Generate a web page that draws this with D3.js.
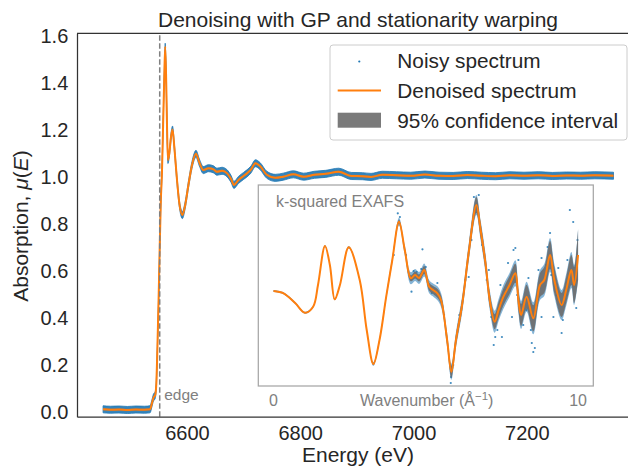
<!DOCTYPE html>
<html>
<head>
<meta charset="utf-8">
<script src="https://cdn.jsdelivr.net/npm/d3@7"></script>
<style>
  body { margin: 0; background: #fff; }
  text { font-family: "Liberation Sans", Arial, sans-serif; }
</style>
</head>
<body>
<svg id="chart"></svg>
<script>
// main spectrum
const energy = [6452, 6465, 6480, 6495, 6510, 6525, 6535, 6538, 6541, 6544, 6546, 6548, 6550, 6552, 6554,
    6556, 6558, 6560, 6561.7, 6563.5, 6565, 6566.5, 6569, 6572, 6574.6, 6578, 6582, 6587, 6592, 6597,
    6603, 6609, 6616, 6622, 6629, 6638, 6647, 6653, 6662, 6671, 6678, 6683, 6691, 6700, 6706, 6713,
    6721, 6729, 6741, 6756, 6770, 6788, 6806, 6825, 6845, 6868, 6890, 6910, 6925, 6945, 6970, 6995,
    7020, 7045, 7070, 7095, 7120, 7145, 7170, 7195, 7220, 7245, 7270, 7295, 7320, 7353];
const mu = [0.012, 0.010, 0.011, 0.009, 0.011, 0.010, 0.012, 0.035, 0.062, 0.072, 0.12, 0.28, 0.475, 0.70, 0.90,
    1.02, 1.22, 1.42, 1.552, 1.40, 1.20, 1.071, 1.10, 1.17, 1.20, 1.12, 1.00, 0.88, 0.837, 0.88,
    0.97, 1.05, 1.097, 1.06, 1.028, 1.036, 1.031, 1.021, 1.025, 1.014, 0.99, 0.965, 0.986, 1.003, 1.014, 1.03,
    1.057, 1.045, 1.008, 0.995, 1.000, 1.010, 1.000, 1.008, 1.012, 1.021, 1.003, 1.002, 0.999, 1.008, 1.006, 1.004,
    1.009, 1.004, 1.003, 1.007, 1.004, 1.002, 1.006, 1.004, 1.006, 1.003, 1.005, 1.004, 1.006, 1.004];
const muNoise = 0.015;
const muCI = 0.005;
const edgeEnergy = 6552;

// inset: k-squared EXAFS (arbitrary units)
const kGrid = [0, 0.33, 0.71, 1.03, 1.30, 1.46, 1.69, 1.85, 2.01, 2.18, 2.47, 2.83, 3.06, 3.28, 3.48, 3.70,
    3.90, 4.12, 4.31, 4.51, 4.65, 4.78, 4.95, 5.11, 5.24, 5.38, 5.50, 5.70, 5.84, 5.99, 6.20, 6.42, 6.66,
    6.80, 6.96, 7.10, 7.26, 7.39, 7.55, 7.75, 7.94, 8.04, 8.13, 8.31, 8.53, 8.75, 8.89, 9.08, 9.22, 9.46,
    9.61, 9.78, 9.87, 10.0];
const chiK2 = [-0.06, -0.083, -0.18, -0.277, -0.217, 0.0, 0.39, 0.2, -0.143, 0.0, 0.377, 0.05, -0.45, -0.79, -0.55, -0.117,
    0.25, 0.633, 0.35, 0.067, 0.10, 0.07, 0.15, -0.017, -0.05, -0.083, -0.15, -0.55, -0.867, -0.55, -0.183, 0.35, 0.80,
    0.55, 0.217, -0.15, -0.367, -0.25, -0.117, 0.0, 0.117, -0.15, -0.30, -0.117, -0.333, 0.0, 0.05, 0.30, 0.05, -0.20,
    -0.05, 0.15, 0.0, 0.30];
const chiCI = [0.006, 0.006, 0.006, 0.006, 0.006, 0.006, 0.006, 0.006, 0.006, 0.006, 0.006, 0.006, 0.006, 0.01, 0.012, 0.015,
    0.018, 0.02, 0.025, 0.03, 0.035, 0.035, 0.04, 0.04, 0.04, 0.045, 0.045, 0.05, 0.06, 0.055, 0.06, 0.065, 0.08,
    0.075, 0.07, 0.07, 0.075, 0.08, 0.085, 0.09, 0.095, 0.10, 0.11, 0.12, 0.13, 0.12, 0.13, 0.14, 0.13, 0.12,
    0.13, 0.15, 0.18, 0.25];
const chiNoise = [0.01, 0.01, 0.01, 0.01, 0.01, 0.01, 0.01, 0.01, 0.01, 0.01, 0.012, 0.012, 0.015, 0.02, 0.025, 0.03,
    0.035, 0.04, 0.05, 0.06, 0.06, 0.06, 0.065, 0.065, 0.065, 0.07, 0.07, 0.075, 0.08, 0.08, 0.085, 0.09, 0.10,
    0.10, 0.10, 0.10, 0.11, 0.11, 0.12, 0.12, 0.13, 0.13, 0.14, 0.15, 0.16, 0.15, 0.16, 0.17, 0.16, 0.15,
    0.16, 0.18, 0.20, 0.26];
const noisyK = [4.08, 4.15, 3.95, 4.35, 4.53, 4.6, 4.7, 4.89, 4.85, 5.0, 5.05, 5.2, 5.38, 5.45, 5.6, 5.82, 5.83, 5.9,
    6.1, 6.3, 6.41, 6.5, 6.58, 6.74, 6.85, 7.07, 7.0, 7.15, 7.23, 7.28, 7.35, 7.5, 7.45, 7.6, 7.7, 7.83, 7.88, 7.94,
    8.0, 8.04, 8.2, 8.37, 8.3, 8.45, 8.48, 8.53, 8.58, 8.65, 8.7, 8.8, 8.8, 8.95, 9.0, 9.08, 9.12, 9.19, 9.3, 9.35,
    9.46, 9.5, 9.55, 9.65, 9.73, 9.84, 9.9, 9.94, 9.98];
const noisyV = [0.717, 0.68, 0.30, 0.30, -0.067, 0.14, 0.13, 0.357, 0.16, 0.18, 0.05, -0.08, 0.02, -0.12, -0.30, -0.98, -0.92, -0.80,
    -0.30, 0.05, 0.08, 0.45, 0.88, 0.90, 0.40, 0.15, 0.05, -0.32, -0.60, -0.52, -0.45, -0.52, 0.0, -0.05, 0.22, -0.32, 0.35, 0.37,
    -0.1, 0.25, -0.40, 0.07, -0.25, -0.45, -0.58, -0.67, -0.63, -0.2, 0.15, 0.27, -0.32, 0.2, 0.38, 0.52, 0.1, -0.32, -0.1, 0.17,
    -0.48, -0.35, -0.1, 0.25, 0.75, 0.63, 0.05, -0.23, 0.45];

const xTicks = [6600, 6800, 7000, 7200];
const yTicks = [0.0, 0.2, 0.4, 0.6, 0.8, 1.0, 1.2, 1.4, 1.6];
const kTicks = [0, 10];
const legendLabels = ["Noisy spectrum", "Denoised spectrum", "95% confidence interval"];

const BLUE = "#1f77b4", ORANGE = "#ff7f0e", GREY = "#7a7a7a", INK = "#262626";

const svg = d3.select("#chart").attr("width", 628).attr("height", 467);

const x = d3.scaleLinear().domain([6406, 7398]).range([77, 639]);
const y = d3.scaleLinear().domain([-0.0195, 1.609]).range([416.7, 33.3]);

const main = energy.map((e, i) => ({ e: e, v: mu[i] }));

// noisy band, CI and denoised line
svg.append("path")
    .datum(main)
    .attr("fill", BLUE).attr("fill-opacity", 0.9)
    .attr("stroke", BLUE).attr("stroke-width", 0.8)
    .attr("d", d3.area().curve(d3.curveMonotoneX)
        .x(d => x(d.e)).y0(d => y(d.v - muNoise)).y1(d => y(d.v + muNoise)));

svg.append("path")
    .datum(main)
    .attr("fill", GREY)
    .attr("d", d3.area().curve(d3.curveMonotoneX)
        .x(d => x(d.e)).y0(d => y(d.v - muCI)).y1(d => y(d.v + muCI)));

svg.append("path")
    .datum(main)
    .attr("fill", "none").attr("stroke", ORANGE).attr("stroke-width", 2)
    .attr("d", d3.line().curve(d3.curveMonotoneX).x(d => x(d.e)).y(d => y(d.v)));

// edge marker
svg.append("line")
    .attr("x1", x(edgeEnergy)).attr("x2", x(edgeEnergy))
    .attr("y1", y.range()[0]).attr("y2", y.range()[1])
    .attr("stroke", "#808080").attr("stroke-width", 1.5).attr("stroke-dasharray", "5.5,2.5");
svg.append("text")
    .attr("x", x(edgeEnergy) + 4.5).attr("y", 400)
    .attr("font-size", 15.5).attr("fill", "#808080")
    .text("edge");

// axes
const xaxis = d3.axisBottom(x).tickValues(xTicks).tickSize(0).tickPadding(0).tickFormat(d3.format("d"));
const yaxis = d3.axisLeft(y).tickValues(yTicks).tickSize(0).tickPadding(8.7).tickFormat(d3.format(".1f"));

const xg = svg.append("g").attr("transform", `translate(0, ${y.range()[0]})`).call(xaxis);
const yg = svg.append("g").attr("transform", `translate(${x.range()[0]}, 0)`).call(yaxis);

[xg, yg].forEach(g => {
    g.select(".domain").attr("stroke", "#333").attr("stroke-width", 1.25);
    g.selectAll("text").attr("font-size", 20).attr("fill", INK)
        .style("font-family", "'Liberation Sans', Arial, sans-serif");
});
xg.selectAll("text").attr("dy", null).attr("y", 23.3);
yg.selectAll("text").attr("dy", "0.34em");

svg.append("line")
    .attr("x1", x.range()[0]).attr("x2", x.range()[1])
    .attr("y1", y.range()[1]).attr("y2", y.range()[1])
    .attr("stroke", "#333").attr("stroke-width", 1.25);

svg.append("text")
    .attr("x", 358).attr("y", 462)
    .attr("text-anchor", "middle").attr("font-size", 21).attr("fill", INK)
    .text("Energy (eV)");

const ylab = svg.append("text")
    .attr("transform", "translate(28, 226) rotate(-90)")
    .attr("text-anchor", "middle").attr("font-size", 21).attr("fill", INK);
ylab.append("tspan").text("Absorption, ");
ylab.append("tspan").attr("font-style", "italic").text("\u03bc");
ylab.append("tspan").text("(");
ylab.append("tspan").attr("font-style", "italic").text("E");
ylab.append("tspan").text(")");

svg.append("text")
    .attr("x", 358).attr("y", 27.3)
    .attr("text-anchor", "middle").attr("font-size", 21).attr("fill", INK)
    .text("Denoising with GP and stationarity warping");

// legend
const legend = svg.append("g");
legend.append("rect")
    .attr("x", 330).attr("y", 45).attr("width", 297).attr("height", 95).attr("rx", 3)
    .attr("fill", "#fff").attr("fill-opacity", 0.8).attr("stroke", "#cccccc").attr("stroke-width", 1);
legend.append("circle").attr("cx", 359.3).attr("cy", 61.5).attr("r", 1.1).attr("fill", BLUE);
legend.append("line").attr("x1", 337.7).attr("x2", 381).attr("y1", 90.5).attr("y2", 90.5)
    .attr("stroke", ORANGE).attr("stroke-width", 2);
legend.append("rect").attr("x", 337.7).attr("y", 112.7).attr("width", 43.3).attr("height", 15)
    .attr("fill", GREY);
legend.selectAll("text.lab")
    .data(legendLabels)
    .join("text")
    .attr("class", "lab")
    .attr("x", 397.3)
    .attr("y", (d, i) => 68.3 + i * 30)
    .attr("font-size", 20.8).attr("fill", INK)
    .text(d => d);

// inset
const ix = d3.scaleLinear().domain([-0.5, 10.5]).range([258.3, 593.3]);
const iy = d3.scaleLinear().domain([-1.01, 1.0]).range([386, 185]);
const smooth = d3.curveCatmullRom.alpha(0.5);
const inset = svg.append("g");
inset.append("rect")
    .attr("x", ix.range()[0]).attr("y", iy.range()[1])
    .attr("width", ix.range()[1] - ix.range()[0]).attr("height", iy.range()[0] - iy.range()[1])
    .attr("fill", "#fff").attr("stroke", "#a6a6a6").attr("stroke-width", 1.25);

const exafs = kGrid.map((k, i) => ({ k: k, v: chiK2[i], ci: chiCI[i], nz: chiNoise[i] }));

inset.append("path")
    .datum(exafs)
    .attr("fill", BLUE).attr("fill-opacity", 0.55)
    .attr("d", d3.area().curve(smooth)
        .x(d => ix(d.k)).y0(d => iy(d.v - d.nz)).y1(d => iy(d.v + d.nz)));

inset.selectAll("circle")
    .data(noisyK.map((k, i) => ({ k: k, v: noisyV[i] })))
    .join("circle")
    .attr("cx", d => ix(d.k)).attr("cy", d => iy(d.v))
    .attr("r", 1.1).attr("fill", BLUE).attr("fill-opacity", 0.85);

inset.append("path")
    .datum(exafs)
    .attr("fill", "#6e6e6e").attr("fill-opacity", 0.92)
    .attr("d", d3.area().curve(smooth)
        .x(d => ix(d.k)).y0(d => iy(d.v - d.ci)).y1(d => iy(d.v + d.ci)));

inset.append("path")
    .datum(exafs)
    .attr("fill", "none").attr("stroke", ORANGE).attr("stroke-width", 2)
    .attr("d", d3.line().curve(smooth).x(d => ix(d.k)).y(d => iy(d.v)));

inset.selectAll("text.ktick")
    .data(kTicks)
    .join("text")
    .attr("class", "ktick")
    .attr("x", d => ix(d)).attr("y", 406)
    .attr("text-anchor", "middle").attr("font-size", 16).attr("fill", "#808080")
    .text(d => d);

const wl = inset.append("text")
    .attr("x", 426.7).attr("y", 406)
    .attr("text-anchor", "middle").attr("font-size", 16).attr("fill", "#808080");
wl.append("tspan").text("Wavenumber (\u00c5");
wl.append("tspan").attr("font-size", 11.5).attr("dy", -6).text("\u22121");
wl.append("tspan").attr("dy", 6).text(")");

inset.append("text")
    .attr("x", 276).attr("y", 206.7)
    .attr("font-size", 16).attr("fill", "#808080")
    .text("k-squared EXAFS");
</script>
</body>
</html>
